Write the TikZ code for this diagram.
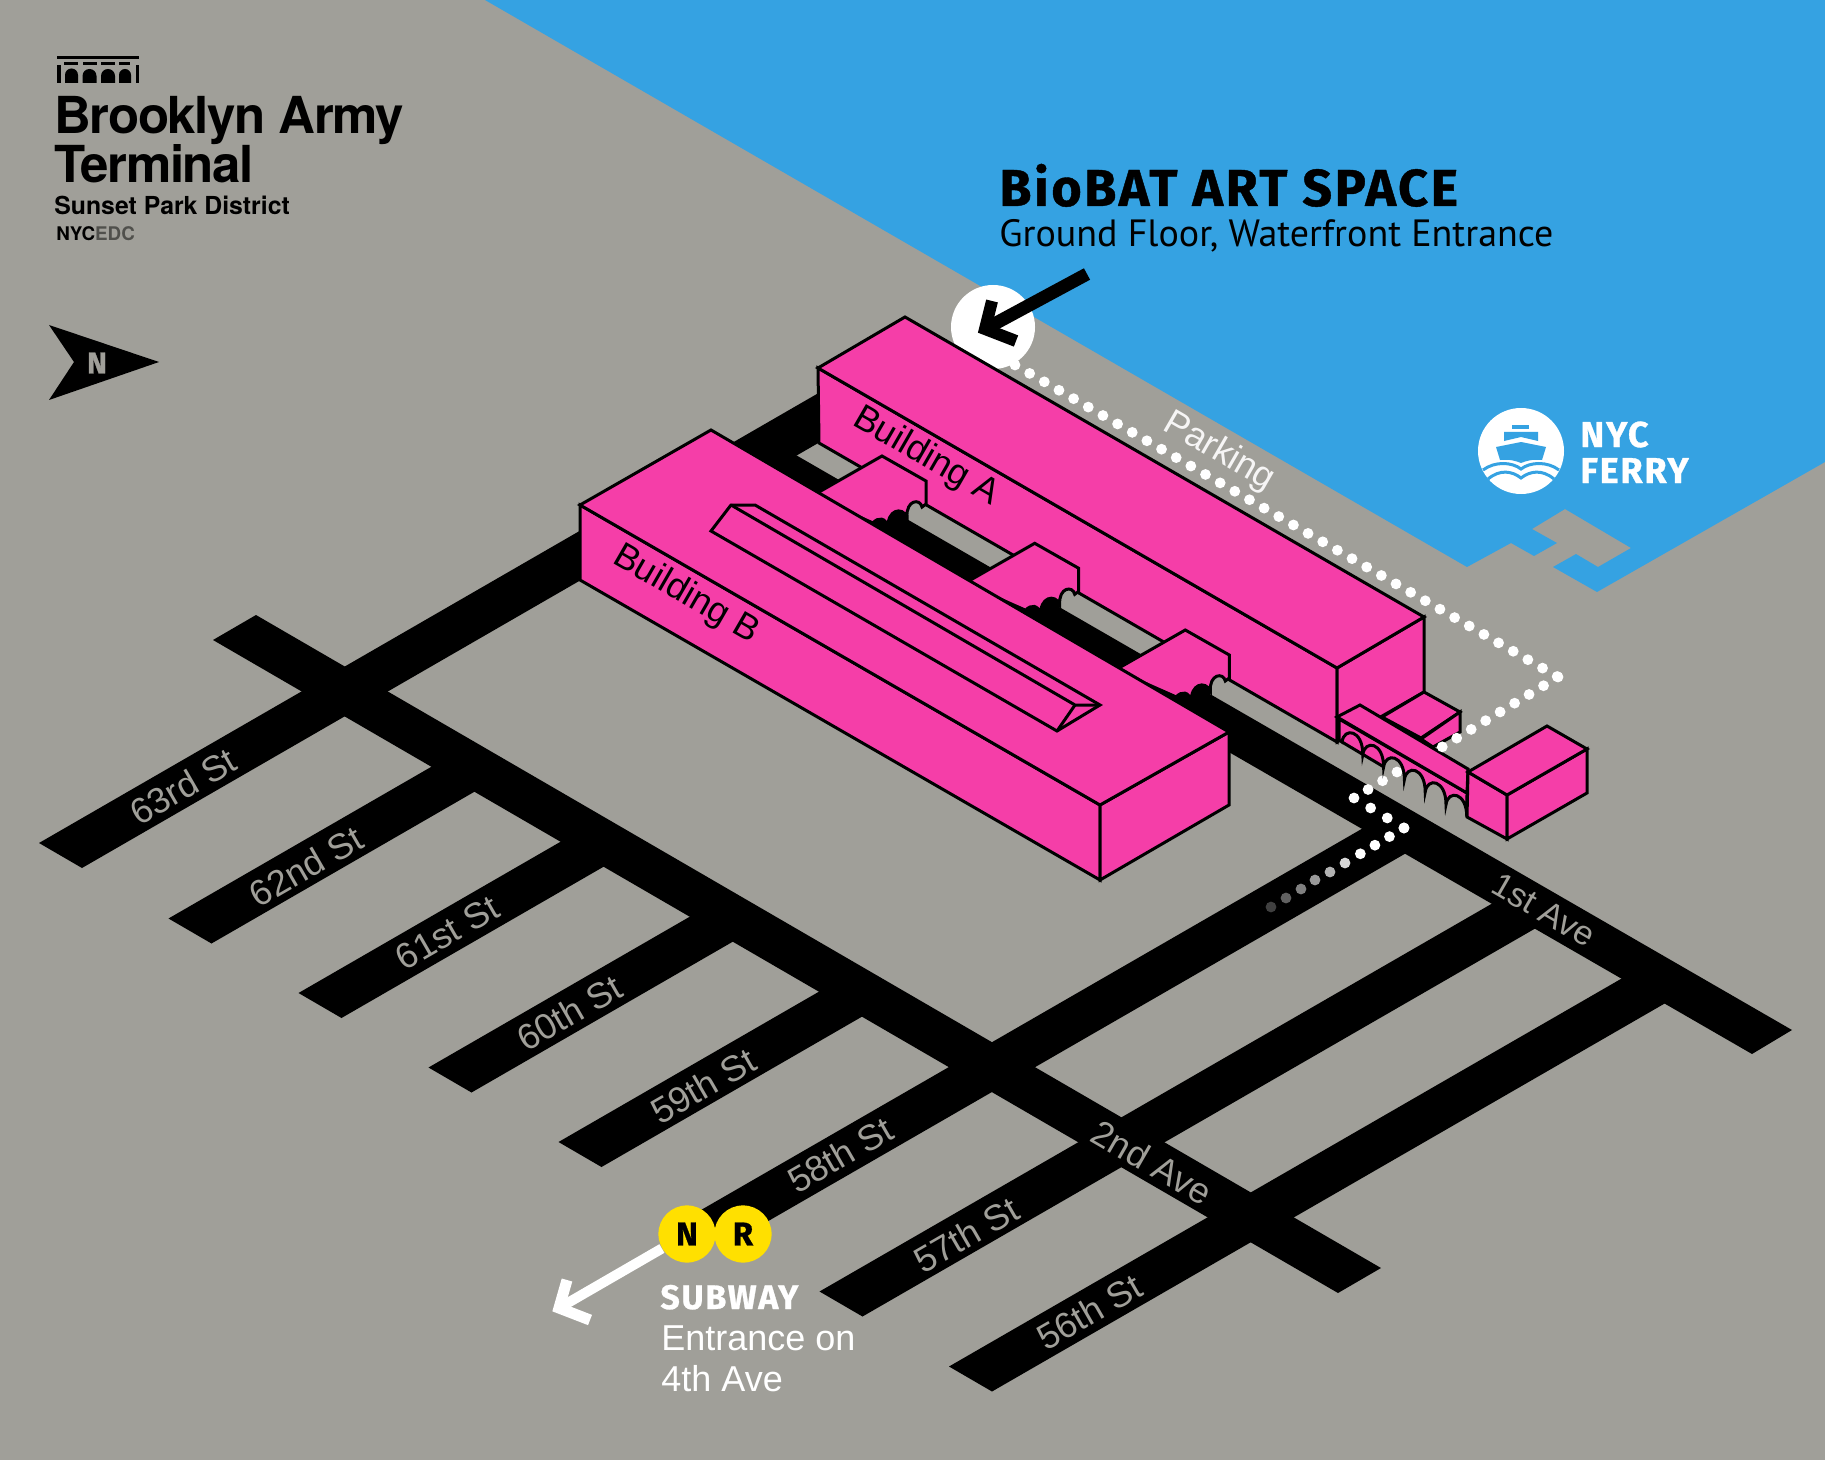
\documentclass[tikz,border=0pt]{standalone}
\usepackage{fontspec}
\setmainfont{Liberation Sans}
\newfontfamily\logofont[LetterSpace=-2.7]{TeX Gyre Heros}
\newfontfamily\districtfont{TeX Gyre Heros}
\newfontfamily\signfont[LetterSpace=5,BoldFeatures={FakeBold=0.8}]{Fira Sans}
\newfontfamily\floorfont{PT Sans}
\definecolor{land}{HTML}{A09F99}
\definecolor{water}{HTML}{35A2E2}
\definecolor{mass}{HTML}{F53EA8}
\definecolor{subway}{HTML}{FFE000}

\tikzset{
  road shape/.style={fill=black},
  pink block/.style={fill=mass,draw=black,line width=1.5pt,line join=miter},
  dot path/.style={draw=white,line width=5.4pt,line cap=round,dash pattern=on 0pt off 8.45pt},
  street label/.style={font=\fontsize{18}{20}\selectfont,text=land,inner sep=0pt},
  wall label/.style={font=\fontsize{18}{20}\selectfont,text=black,inner sep=0pt,rotate=-30},
  base label/.style={anchor=base west,inner sep=0pt},
  line badge/.style={circle,fill=subway,minimum size=28.6pt,inner sep=0pt,text=black,font=\signfont\bfseries\fontsize{16.5}{18}\selectfont},
  archwing/.pic={
    \fill[black] (870,525) -- (880,515) -- (897,505) -- (908,518) -- (895,540) -- cycle;
    \fill[land] (907,518) -- (912,498) -- (922,500) -- (926,505) -- cycle;
    \draw[pink block] (812,496) -- (882,456) -- (926,481) -- (926,504) -- (922,507)
      .. controls (920,498) and (906,500) .. (907,517)
      .. controls (902,506) and (887,510) .. (888,528)
      .. controls (886,517) and (878,517) .. (873,523) -- cycle;
  }
}

\begin{document}
\begin{tikzpicture}[x=0.5pt,y=-0.5pt]
  \useasboundingbox (0,0) rectangle (1825,1460);
  \fill[land] (0,0) rectangle (1825,1460);

  % water
  \fill[water] (485,0) -- (1467,567) -- (1511,543) -- (1534,556) -- (1557,543) -- (1532,529)
    -- (1565,509) -- (1631,548) -- (1598,567) -- (1576,554) -- (1553,567) -- (1597,592)
    -- (1825,462) -- (1825,0) -- cycle;

  % streets
  \fill[road shape] (39,843) -- ++(43,25) -- ++(790,-456) -- ++(-43,-25) -- cycle;
  \fill[road shape] (168.5,918.5) -- ++(43,25) -- ++(285,-164.5) -- ++(-43,-25) -- cycle;
  \fill[road shape] (298.5,993) -- ++(43,25) -- ++(285,-164.5) -- ++(-43,-25) -- cycle;
  \fill[road shape] (428.5,1067.5) -- ++(43,25) -- ++(285,-164.5) -- ++(-43,-25) -- cycle;
  \fill[road shape] (558.5,1142) -- ++(43,25) -- ++(285,-164.5) -- ++(-43,-25) -- cycle;
  \fill[road shape] (691.5,1215.5) -- ++(43,25) -- ++(690,-398) -- ++(-43,-25) -- cycle;
  \fill[road shape] (819.5,1291.5) -- ++(43,25) -- ++(690,-398) -- ++(-43,-25) -- cycle;
  \fill[road shape] (949,1366.5) -- ++(43,25) -- ++(690,-398) -- ++(-43,-25) -- cycle;
  \fill[road shape] (213,640) -- (256,615) -- (1381,1268) -- (1338,1293) -- cycle;
  \fill[road shape] (775,443) -- (1792,1030) -- (1752,1054) -- (735,467) -- cycle;

  \node[street label,rotate=30] (st63) at (183,786) {63rd St};
  \node[street label,rotate=30] (st62) at (306,866) {62nd St};
  \node[street label,rotate=30] (st61) at (447,933) {61st St};
  \node[street label,rotate=30] (st60) at (569,1013) {60th St};
  \node[street label,rotate=30] (st59) at (703,1086) {59th St};
  \node[street label,rotate=30] (st58) at (840,1155) {58th St};
  \node[street label,rotate=30] (st57) at (966,1235) {57th St};
  \node[street label,rotate=30] (st56) at (1089,1312) {56th St};
  \node[street label,rotate=-30,font=\fontsize{17}{20}\selectfont] (ave1) at (1544,910) {1st Ave};
  \node[street label,rotate=-30] (ave2) at (1152,1162) {2nd Ave};

  % walking route from the subway
  \draw[dot path] (1397,772) -- (1354,798);
  \draw[dot path,dash pattern=on 0pt off 9.7pt] (1354,798) -- (1404,828);
  \draw[dot path] (1404,828) -- (1360,854);
  \fill[white!85!black] (1345,863) circle (5.4);
  \fill[white!70!black] (1330,872) circle (5.4);
  \fill[white!60!black] (1315,880) circle (5.4);
  \fill[white!50!black] (1301,889) circle (5.4);
  \fill[white!38!black] (1286,898) circle (5.4);
  \fill[white!25!black] (1271,907) circle (5.4);

  % door marker, goes under building A
  \node[circle,fill=white,minimum size=42pt,inner sep=0pt] (door) at (993,327) {};
  \draw[dot path] (1015,365) -- (1558,677);

  % building A
  \draw[pink block] (818,368) -- (1337,668) -- (1337,742) -- (819,443) -- cycle;
  \draw[pink block] (1337,668) -- (1424,617) -- (1424,692) -- (1337,742) -- cycle;
  \draw[pink block] (905,317) -- (818,368) -- (1337,668) -- (1424,617) -- cycle;
  \pic at (0,0) {archwing};
  \pic at (152.7,87.3) {archwing};
  \pic at (303.3,174) {archwing};
  \node[wall label] (labela) at (926,457) {Building A};

  % annex on the east end
  \fill[mass] (1342,742) -- (1384,767) -- (1384,745) -- (1342,725) -- cycle;
  \draw[black,line width=1.5pt] (1342,742) -- (1384,767);
  \draw[pink block] (1424,692) -- (1460,712) -- (1421,738) -- (1382,717) -- cycle;
  \draw[pink block] (1421,739) -- (1460,712) -- (1460,732) -- (1433,747) -- cycle;
  \draw[pink block] (1342,742)
    .. controls +(2,-15) and +(0,-25) .. ++(20.8,12.5)
    .. controls +(2,-15) and +(0,-25) .. ++(20.8,12.5)
    .. controls +(2,-15) and +(0,-25) .. ++(20.8,12.5)
    .. controls +(2,-15) and +(0,-25) .. ++(20.8,12.5)
    .. controls +(2,-15) and +(0,-25) .. ++(20.8,12.5)
    .. controls +(2,-15) and +(0,-25) .. ++(20.8,12.5)
    -- (1467,793) -- (1339,719) -- (1339,740) -- cycle;
  \draw[pink block] (1337,717) -- (1360,705) -- (1468,769) -- (1467,793) -- cycle;
  \draw[pink block] (1468,772) -- (1507,795) -- (1507,839) -- (1467,817) -- cycle;
  \draw[pink block] (1507,795) -- (1587,749) -- (1587,793) -- (1507,839) -- cycle;
  \draw[pink block] (1547,726) -- (1587,749) -- (1507,795) -- (1468,772) -- cycle;
  \draw[dot path] (1558,677) -- (1442,747);

  % building B
  \draw[pink block] (580,505) -- (1100,805) -- (1100,880) -- (580,580) -- cycle;
  \draw[pink block] (1100,805) -- (1229,732) -- (1229,805) -- (1100,880) -- cycle;
  \draw[pink block] (711,430) -- (580,505) -- (1100,805) -- (1229,732) -- cycle;
  \draw[pink block] (711,531) -- (731,505) -- (755,505) -- (1100,705) -- (1057,731) -- cycle;
  \draw[black,line width=1.5pt] (731,505) -- (1075,705) -- (1100,705);
  \draw[black,line width=1.5pt] (1075,705) -- (1057,731);
  \node[wall label] (labelb) at (686,595) {Building B};
  \node[wall label,text=white!90!land] (parking) at (1219,452) {Parking};

  % arrow to the entrance
  \coordinate (doorfrom) at (1087,274);
  \coordinate (doortip) at (985,329);
  \coordinate (doorhi) at (992,301);
  \coordinate (doorlo) at (1016,341);
  \draw[black,line width=6.5pt] (doorfrom) -- (doortip);
  \draw[black,line width=6pt,miter limit=4] (doorhi) -- (doortip) -- (doorlo);
  \node[base label,font=\signfont\bfseries\fontsize{26}{30}\selectfont] (title) at (999,206) {BioBAT ART SPACE};
  \node[base label,font=\floorfont\fontsize{19}{22}\selectfont] (floor) at (999,247) {Ground Floor, Waterfront Entrance};

  % logo
  \fill[black] (57,56) rectangle (139,59);
  \fill[black] (64,62) rectangle (78,65);
  \fill[black] (83,62) rectangle (97,65);
  \fill[black] (101,62) rectangle (115,65);
  \fill[black] (119,62) rectangle (130,65);
  \fill[black] (57,65) rectangle (61,83);
  \fill[black] (136,65) rectangle (139,83);
  \fill[black] (65,83) -- (65,75) arc[start angle=180,end angle=360,radius=6.5] -- (78,83) -- cycle;
  \fill[black] (82.5,83) -- (82.5,76) arc[start angle=180,end angle=360,radius=7] -- (96.5,83) -- cycle;
  \fill[black] (101,83) -- (101,76) arc[start angle=180,end angle=360,radius=7] -- (115,83) -- cycle;
  \fill[black] (119,83) -- (119,75) arc[start angle=180,end angle=360,radius=6] -- (131,83) -- cycle;
  \node[base label,font=\logofont\bfseries\fontsize{25.5}{28}\selectfont] (brand) at (54,134) {Brooklyn Army};
  \node[base label,font=\logofont\bfseries\fontsize{25.5}{28}\selectfont] (brandb) at (54,183) {Terminal};
  \node[base label,font=\districtfont\bfseries\fontsize{12.4}{14}\selectfont] (district) at (54,215) {Sunset Park District};
  \node[base label,font=\districtfont\bfseries\fontsize{9.4}{10}\selectfont] (edc) at (56,241) {NYC\textcolor{black!50!land}{EDC}};

  % north arrow
  \fill[black] (159,362) -- (49,325) -- (74,362) -- (49,400) -- cycle;
  \node[text=land,inner sep=0pt,font=\signfont\bfseries\fontsize{15}{16}\selectfont] (north) at (97,363) {N};

  % ferry
  \fill[white] (1521,451) circle (43);
  \fill[water] (1512,425) rectangle (1529,429);
  \fill[water] (1504,432) -- (1538,432) -- (1538,441) -- (1521,437) -- (1504,441) -- cycle;
  \fill[water] (1496,447) -- (1521,442) -- (1546,447) -- (1542,460) .. controls (1532,459) and (1526,461) .. (1521,463) .. controls (1516,461) and (1510,459) .. (1500,460) -- cycle;
  \draw[water,line width=1.5pt] (1483,470) .. controls (1495,461) and (1512,462) .. (1521,469) .. controls (1530,462) and (1547,461) .. (1559,470);
  \draw[water,line width=1.5pt] (1488,479) .. controls (1500,469) and (1512,471) .. (1521,478) .. controls (1530,471) and (1542,469) .. (1554,479);
  \node[base label,text=white,font=\signfont\bfseries\fontsize{18}{20}\selectfont] (ferrya) at (1580,447) {NYC};
  \node[base label,text=white,font=\signfont\bfseries\fontsize{18}{20}\selectfont] (ferryb) at (1580,483) {FERRY};

  % subway
  \coordinate (subtip) at (559,1308);
  \coordinate (subhi) at (567,1280);
  \coordinate (sublo) at (590,1320);
  \node[line badge] (subn) at (687,1234) {N};
  \node[line badge] (subr) at (743,1234) {R};
  \draw[white,line width=5pt] (subn) -- (subtip);
  \draw[white,line width=5.5pt] (subhi) -- (subtip) -- (sublo);
  \node[base label,text=white,font=\signfont\bfseries\fontsize{17}{20}\selectfont] (subway) at (660,1309) {SUBWAY};
  \node[base label,text=white,font=\fontsize{18}{20}\selectfont] (entrance) at (661,1350) {Entrance on};
  \node[base label,text=white,font=\fontsize{18}{20}\selectfont] (avenue) at (661,1391) {4th Ave};
\end{tikzpicture}
\end{document}
